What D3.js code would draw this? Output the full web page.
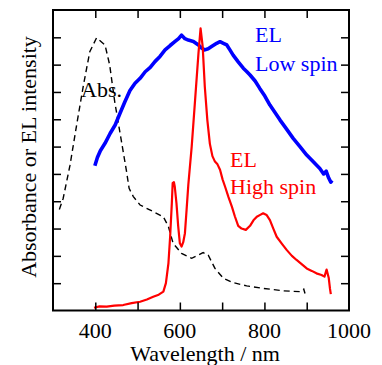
<!DOCTYPE html>
<html>
<head>
<meta charset="utf-8">
<script src="https://cdn.jsdelivr.net/npm/d3@7/dist/d3.min.js"></script>
</head>
<body style="margin:0">
<svg id="chart" width="382" height="365"></svg>
<script>
// Absorption spectrum (normalised)
const absWavelength = [315, 324, 340, 356, 372, 387, 403, 423, 434, 446, 462, 474, 480, 490, 506, 537, 561, 573, 584, 604, 628, 655, 667, 683, 703, 726, 758, 797, 845, 884, 893, 896];
const absValue      = [0.37, 0.41, 0.53, 0.68, 0.825, 0.947, 0.998, 0.972, 0.899, 0.764, 0.618, 0.508, 0.447, 0.417, 0.386, 0.362, 0.343, 0.307, 0.246, 0.209, 0.191, 0.212, 0.203, 0.154, 0.118, 0.102, 0.09, 0.081, 0.072, 0.069, 0.078, 0.062];

// EL spectrum, low-spin device
const lowWavelength = [399, 405, 412, 423, 435, 447, 458, 470, 482, 494, 506, 518, 530, 541, 553, 565, 577, 588, 597, 604, 612, 620, 632, 644, 652, 659, 667, 675, 687, 695, 703, 711, 718, 726, 738, 750, 758, 766, 778, 789, 801, 813, 825, 837, 852, 868, 884, 900, 915, 931, 940, 946, 952, 957, 960];
const lowValue      = [0.53, 0.56, 0.585, 0.612, 0.648, 0.679, 0.72, 0.764, 0.805, 0.832, 0.85, 0.874, 0.89, 0.911, 0.93, 0.954, 0.97, 0.984, 0.995, 1.008, 0.995, 0.99, 0.985, 0.972, 0.96, 0.954, 0.958, 0.966, 0.978, 0.984, 0.978, 0.972, 0.955, 0.935, 0.91, 0.887, 0.875, 0.862, 0.84, 0.813, 0.785, 0.752, 0.725, 0.697, 0.665, 0.63, 0.6, 0.569, 0.545, 0.52, 0.5, 0.51, 0.485, 0.47, 0.476];

// EL spectrum, high-spin device
const highWavelength = [397, 410, 427, 445, 466, 486, 506, 522, 537, 550, 561, 567, 573, 577, 581, 583, 586, 588, 592, 596, 600, 604, 608, 612, 616, 620, 624, 628, 636, 644, 649, 654, 659, 665, 671, 677, 683, 689, 695, 701, 707, 715, 723, 730, 738, 746, 756, 766, 774, 782, 790, 797, 805, 813, 821, 829, 841, 853, 865, 876, 888, 900, 912, 923, 935, 942, 947, 952, 955, 957];
const highValue      = [0.01, 0.015, 0.014, 0.018, 0.02, 0.027, 0.032, 0.04, 0.05, 0.058, 0.069, 0.1, 0.173, 0.27, 0.392, 0.466, 0.47, 0.453, 0.392, 0.31, 0.246, 0.234, 0.25, 0.283, 0.37, 0.46, 0.53, 0.6, 0.77, 0.941, 1.033, 0.966, 0.819, 0.697, 0.61, 0.565, 0.545, 0.535, 0.515, 0.48, 0.453, 0.415, 0.38, 0.345, 0.31, 0.3, 0.295, 0.31, 0.33, 0.343, 0.35, 0.356, 0.35, 0.331, 0.3, 0.27, 0.245, 0.221, 0.2, 0.185, 0.17, 0.154, 0.145, 0.136, 0.13, 0.124, 0.15, 0.12, 0.08, 0.06];

const xTicks = [400, 600, 800, 1000];
const xMinorTicks = [500, 700, 900];
const yTicks = [0.1, 0.2, 0.3, 0.4, 0.5, 0.6, 0.7, 0.8, 0.9, 1.0];

const FONT = '"Liberation Serif", monospace';

const svg = d3.select("#chart");
const padLeft = 53, padRight = 349, padTop = 10, padBottom = 310.5;

const x = d3.scaleLinear().domain([300, 1000]).range([padLeft, padRight]);
const y = d3.scaleLinear().domain([0, 1.1]).range([padBottom, padTop]);

const line = d3.line().x(d => x(d[0])).y(d => y(d[1]));

const plot = svg.append("g");

plot.append("path")
  .datum(d3.zip(absWavelength, absValue))
  .attr("d", line)
  .attr("fill", "none")
  .attr("stroke", "#000")
  .attr("stroke-width", 1.4)
  .attr("stroke-dasharray", "6,4");

plot.append("path")
  .datum(d3.zip(lowWavelength, lowValue))
  .attr("d", line)
  .attr("fill", "none")
  .attr("stroke", "#0000ff")
  .attr("stroke-width", 3.6)
  .attr("stroke-linejoin", "round");

plot.append("path")
  .datum(d3.zip(highWavelength, highValue))
  .attr("d", line)
  .attr("fill", "none")
  .attr("stroke", "#ff0000")
  .attr("stroke-width", 2.2)
  .attr("stroke-linejoin", "round");

// Axes with inward ticks on all four sides
const tickLen = 8;
const allX = xTicks.concat(xMinorTicks).filter(v => v < 1000);
svg.append("g").attr("transform", `translate(0,${padBottom})`)
  .call(d3.axisBottom(x).tickValues(allX).tickSizeInner(-tickLen).tickSizeOuter(0).tickFormat(""))
  .call(g => g.select(".domain").remove())
  .call(g => g.selectAll("line").attr("stroke-width", 1.5));
svg.append("g").attr("transform", `translate(0,${padTop})`)
  .call(d3.axisTop(x).tickValues(allX).tickSizeInner(-tickLen).tickSizeOuter(0).tickFormat(""))
  .call(g => g.select(".domain").remove())
  .call(g => g.selectAll("line").attr("stroke-width", 1.5));
svg.append("g").attr("transform", `translate(${padLeft},0)`)
  .call(d3.axisLeft(y).tickValues(yTicks).tickSizeInner(-tickLen).tickSizeOuter(0).tickFormat(""))
  .call(g => g.select(".domain").remove())
  .call(g => g.selectAll("line").attr("stroke-width", 1.5));
svg.append("g").attr("transform", `translate(${padRight},0)`)
  .call(d3.axisRight(y).tickValues(yTicks).tickSizeInner(-tickLen).tickSizeOuter(0).tickFormat(""))
  .call(g => g.select(".domain").remove())
  .call(g => g.selectAll("line").attr("stroke-width", 1.5));

svg.append("rect")
  .attr("x", padLeft).attr("y", padTop)
  .attr("width", padRight - padLeft).attr("height", padBottom - padTop)
  .attr("fill", "none").attr("stroke", "#000").attr("stroke-width", 2);

// All text items: tick labels, axis titles and curve labels
const texts = xTicks.map(v => ({ text: String(v), x: x(v), y: 338, anchor: "middle", color: "#000" })).concat([
  { text: "Wavelength / nm", x: 205, y: 361, anchor: "middle", color: "#000" },
  { text: "Absorbance or EL intensity", x: 36, y: 157, anchor: "middle", color: "#000", rotate: true },
  { text: "Abs.", x: 81, y: 97, anchor: "start", color: "#000" },
  { text: "EL", x: 255, y: 42, anchor: "start", color: "#0000ff" },
  { text: "Low spin", x: 255, y: 70.5, anchor: "start", color: "#0000ff" },
  { text: "EL", x: 230, y: 166.5, anchor: "start", color: "#ff0000" },
  { text: "High spin", x: 230, y: 194, anchor: "start", color: "#ff0000" }
]);
svg.selectAll("text.lbl").data(texts).join("text")
  .attr("class", "lbl")
  .attr("x", d => d.rotate ? 0 : d.x)
  .attr("y", d => d.rotate ? 0 : d.y)
  .attr("transform", d => d.rotate ? `translate(${d.x},${d.y}) rotate(-90)` : null)
  .attr("text-anchor", d => d.anchor)
  .attr("font-size", 22)
  .attr("fill", d => d.color)
  .style("font-family", FONT)
  .text(d => d.text);
</script>
</body>
</html>
